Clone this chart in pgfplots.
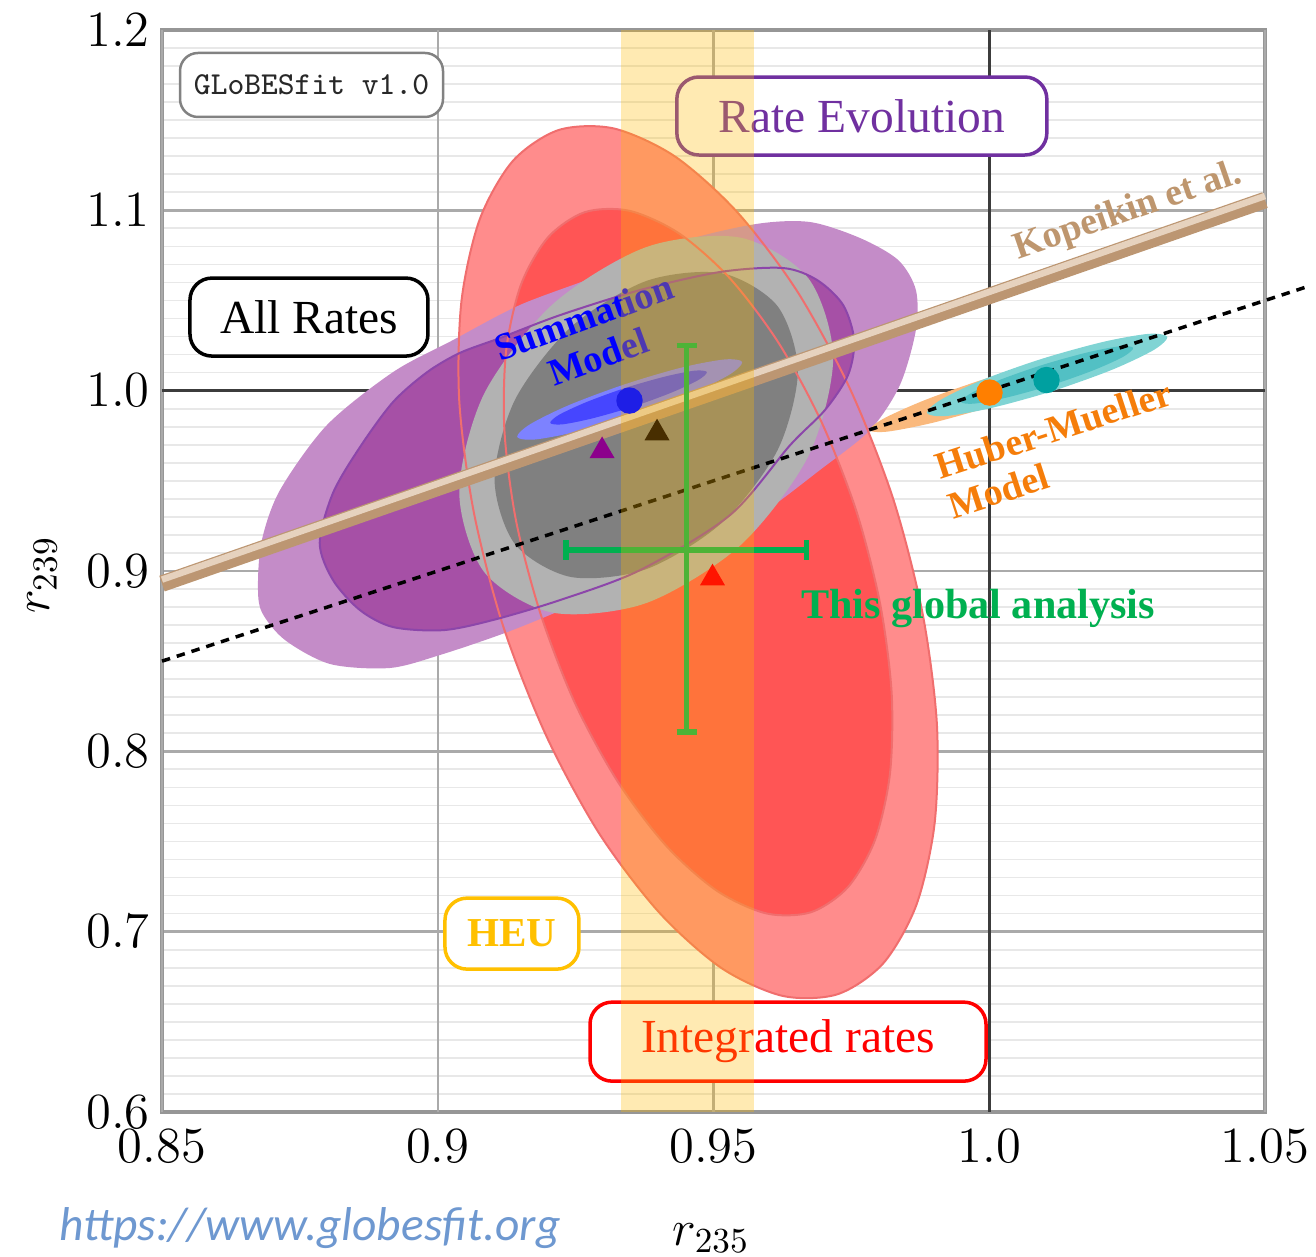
\documentclass[border=0pt]{standalone}
\usepackage{fontspec}
\setmainfont{Liberation Serif}
\newfontfamily\calibri{Carlito}
\usepackage{pgfplots}
\pgfplotsset{compat=1.18}

\definecolor{pur1}{RGB}{196,140,200}
\definecolor{pur2}{RGB}{166,80,166}
\definecolor{purl}{RGB}{140,70,170}
\definecolor{red1}{RGB}{255,140,140}
\definecolor{red2}{RGB}{255,85,85}
\definecolor{redl}{RGB}{240,110,110}
\definecolor{gray1}{RGB}{178,178,178}
\definecolor{gray2}{RGB}{128,128,128}
\definecolor{blu1}{RGB}{125,130,255}
\definecolor{blu2}{RGB}{70,70,255}
\definecolor{ora1}{RGB}{250,185,125}
\definecolor{tea1}{RGB}{128,212,212}
\definecolor{tea2}{RGB}{82,192,196}
\definecolor{heu}{RGB}{255,186,0}
\definecolor{tan1}{RGB}{188,150,114}
\definecolor{tan2}{RGB}{230,210,190}
\definecolor{gcol}{RGB}{0,176,80}
\definecolor{revo}{RGB}{112,48,160}
\definecolor{heub}{RGB}{255,192,0}
\definecolor{hmor}{RGB}{245,125,10}
\definecolor{kop}{RGB}{190,150,110}
\definecolor{urlc}{RGB}{110,152,208}
\definecolor{majg}{RGB}{170,170,170}
\definecolor{ming}{RGB}{232,232,232}
\definecolor{darkg}{RGB}{60,60,60}
\definecolor{frame}{RGB}{150,150,150}

\begin{document}
\begin{tikzpicture}
\begin{axis}[
  at={(0,0)}, anchor=south west,
  scale only axis, width=110.3mm, height=108.2mm,
  xmin=0.85, xmax=1.05, ymin=0.6, ymax=1.2,
  clip=false,
  xtick=\empty,
  extra x ticks={0.85,0.9,0.95,1.0,1.05},
  extra x tick labels={$0.85$,$0.9$,$0.95$,$1.0$,$1.05$},
  extra x tick style={major grid style={draw=majg, line width=0.7pt}},
  ytick={0.6,0.7,0.8,0.9,1.1,1.2}, yticklabels={$0.6$,$0.7$,$0.8$,$0.9$,$1.1$,$1.2$},
  extra y ticks={1.0}, extra y tick labels={$1.0$},
  extra y tick style={major grid style={draw=darkg, line width=0.9pt}},
  minor xtick={0.86,0.87,0.88,0.89,0.91,0.92,0.93,0.94,0.96,0.97,0.98,0.99,1.01,1.02,1.03,1.04},
  minor ytick={0.61,0.62,0.63,0.64,0.65,0.66,0.67,0.68,0.69,0.71,0.72,0.73,0.74,0.75,0.76,0.77,0.78,0.79,0.81,0.82,0.83,0.84,0.85,0.86,0.87,0.88,0.89,0.91,0.92,0.93,0.94,0.95,0.96,0.97,0.98,0.99,1.01,1.02,1.03,1.04,1.05,1.06,1.07,1.08,1.09,1.11,1.12,1.13,1.14,1.15,1.16,1.17,1.18,1.19},
  grid=both,
  major grid style={draw=majg, line width=0.7pt},
  minor grid style={draw=ming, line width=0.5pt},
  major tick length=0pt, minor tick length=0pt,
  axis line style={draw=frame, line width=1pt},
  tick label style={font=\fontsize{14}{16}\selectfont},
  xticklabel style={yshift=-0.5mm},
  xlabel={$r_{235}$}, ylabel={$r_{239}$},
  label style={font=\fontsize{14}{16}\selectfont},
  xlabel style={at={(axis description cs:0.4977,-0.1165)}, anchor=center},
  ylabel style={at={(axis description cs:-0.1088,0.4963)}, anchor=center},
]
% dark reference line r235 = 1
\addplot[draw=darkg, line width=0.9pt] coordinates {(1.0,0.6) (1.0,1.2)};
% ---- Integrated rates (red) ----
\addplot[draw=none, fill=red1, smooth cycle] coordinates {(0.9725,0.6653) (0.9808,0.6825) (0.9868,0.7149) (0.9901,0.7602) (0.9905,0.8154) (0.9879,0.8766) (0.9826,0.9398) (0.9748,1.0007) (0.9652,1.0550) (0.9543,1.0990) (0.9430,1.1299) (0.9319,1.1454) (0.9219,1.1445) (0.9136,1.1273) (0.9076,1.0949) (0.9043,1.0496) (0.9039,0.9944) (0.9065,0.9332) (0.9118,0.8700) (0.9196,0.8091) (0.9292,0.7548) (0.9401,0.7108) (0.9514,0.6799) (0.9625,0.6644)};
\addplot[draw=none, fill=red2, smooth cycle] coordinates {(0.9677,0.7108) (0.9744,0.7248) (0.9793,0.7510) (0.9820,0.7877) (0.9823,0.8324) (0.9802,0.8820) (0.9759,0.9332) (0.9696,0.9825) (0.9618,1.0265) (0.9530,1.0622) (0.9438,1.0871) (0.9348,1.0997) (0.9267,1.0990) (0.9200,1.0850) (0.9151,1.0588) (0.9124,1.0221) (0.9121,0.9774) (0.9142,0.9278) (0.9186,0.8766) (0.9248,0.8273) (0.9326,0.7834) (0.9414,0.7477) (0.9506,0.7227) (0.9596,0.7101)};
% ---- Rate evolution (purple) ----
\addplot[draw=none, fill=pur1, smooth cycle] coordinates {(0.8674,0.8922) (0.8681,0.9171) (0.8714,0.9449) (0.8799,0.9809) (0.8919,1.0103) (0.9028,1.0281) (0.9149,1.0475) (0.9294,1.0641) (0.9439,1.0824) (0.9577,1.0924) (0.9675,1.0935) (0.9766,1.0846) (0.9835,1.0724) (0.9867,1.0558) (0.9867,1.0336) (0.9838,1.0031) (0.9784,0.9782) (0.9693,0.9560) (0.9584,0.9310) (0.9476,0.9127) (0.9367,0.8988) (0.9245,0.8811) (0.9126,0.8661) (0.9004,0.8534) (0.8913,0.8462) (0.8805,0.8484) (0.8723,0.8617) (0.8681,0.8772)};
\addplot[draw=none, fill=pur2, smooth cycle] coordinates {(0.8786,0.9155) (0.8810,0.9432) (0.8859,0.9687) (0.8919,0.9937) (0.8981,1.0103) (0.9040,1.0209) (0.9113,1.0292) (0.9222,1.0419) (0.9367,1.0558) (0.9512,1.0658) (0.9626,1.0680) (0.9688,1.0613) (0.9735,1.0475) (0.9755,1.0281) (0.9744,1.0087) (0.9702,0.9892) (0.9639,0.9698) (0.9530,0.9310) (0.9367,0.9005) (0.9222,0.8839) (0.9100,0.8728) (0.9010,0.8672) (0.8919,0.8689) (0.8859,0.8783) (0.8810,0.8950)};
% ---- All rates (gray) ----
\addplot[draw=none, fill=gray1, smooth cycle] coordinates {(0.9717,1.0180) (0.9672,0.9637) (0.9548,0.9140) (0.9378,0.8822) (0.9208,0.8769) (0.9084,0.8995) (0.9039,0.9439) (0.9084,0.9982) (0.9208,1.0478) (0.9378,1.0796) (0.9548,1.0849) (0.9672,1.0623)};
\addplot[draw=none, fill=gray2, smooth cycle] coordinates {(0.9653,1.0109) (0.9616,0.9669) (0.9515,0.9267) (0.9378,0.9010) (0.9241,0.8967) (0.9140,0.9149) (0.9103,0.9509) (0.9140,0.9949) (0.9241,1.0351) (0.9378,1.0608) (0.9515,1.0651) (0.9616,1.0469)};
% ---- contour outlines on top ----
\addplot[draw=redl, line width=0.2mm, smooth cycle] coordinates {(0.9725,0.6653) (0.9808,0.6825) (0.9868,0.7149) (0.9901,0.7602) (0.9905,0.8154) (0.9879,0.8766) (0.9826,0.9398) (0.9748,1.0007) (0.9652,1.0550) (0.9543,1.0990) (0.9430,1.1299) (0.9319,1.1454) (0.9219,1.1445) (0.9136,1.1273) (0.9076,1.0949) (0.9043,1.0496) (0.9039,0.9944) (0.9065,0.9332) (0.9118,0.8700) (0.9196,0.8091) (0.9292,0.7548) (0.9401,0.7108) (0.9514,0.6799) (0.9625,0.6644)};
\addplot[draw=redl, line width=0.2mm, smooth cycle] coordinates {(0.9677,0.7108) (0.9744,0.7248) (0.9793,0.7510) (0.9820,0.7877) (0.9823,0.8324) (0.9802,0.8820) (0.9759,0.9332) (0.9696,0.9825) (0.9618,1.0265) (0.9530,1.0622) (0.9438,1.0871) (0.9348,1.0997) (0.9267,1.0990) (0.9200,1.0850) (0.9151,1.0588) (0.9124,1.0221) (0.9121,0.9774) (0.9142,0.9278) (0.9186,0.8766) (0.9248,0.8273) (0.9326,0.7834) (0.9414,0.7477) (0.9506,0.7227) (0.9596,0.7101)};
\addplot[draw=purl, line width=0.2mm, smooth cycle] coordinates {(0.8786,0.9155) (0.8810,0.9432) (0.8859,0.9687) (0.8919,0.9937) (0.8981,1.0103) (0.9040,1.0209) (0.9113,1.0292) (0.9222,1.0419) (0.9367,1.0558) (0.9512,1.0658) (0.9626,1.0680) (0.9688,1.0613) (0.9735,1.0475) (0.9755,1.0281) (0.9744,1.0087) (0.9702,0.9892) (0.9639,0.9698) (0.9530,0.9310) (0.9367,0.9005) (0.9222,0.8839) (0.9100,0.8728) (0.9010,0.8672) (0.8919,0.8689) (0.8859,0.8783) (0.8810,0.8950)};
% ---- Summation model (blue) ----
\addplot[draw=none, fill=blu1, smooth cycle] coordinates {(0.9552,1.0159) (0.9529,1.0089) (0.9458,0.9982) (0.9357,0.9867) (0.9254,0.9774) (0.9176,0.9729) (0.9144,0.9743) (0.9167,0.9813) (0.9238,0.9920) (0.9339,1.0035) (0.9442,1.0128) (0.9520,1.0173)};
\addplot[draw=none, fill=blu2, smooth cycle] coordinates {(0.9488,1.0103) (0.9472,1.0058) (0.9422,0.9987) (0.9352,0.9909) (0.9280,0.9846) (0.9226,0.9813) (0.9204,0.9821) (0.9220,0.9866) (0.9270,0.9937) (0.9340,1.0015) (0.9412,1.0078) (0.9466,1.0111)};
% ---- Huber-Mueller ----
\addplot[draw=none, fill=ora1, smooth cycle] coordinates {(1.0219,1.0203) (1.0193,1.0138) (1.0116,1.0033) (1.0009,0.9918) (0.9899,0.9823) (0.9816,0.9773) (0.9783,0.9781) (0.9809,0.9846) (0.9886,0.9951) (0.9993,1.0066) (1.0103,1.0161) (1.0186,1.0212)};
\addplot[draw=none, fill=tea1, smooth cycle] coordinates {(1.0323,1.0298) (1.0298,1.0225) (1.0222,1.0115) (1.0114,0.9997) (1.0004,0.9904) (0.9921,0.9859) (0.9887,0.9876) (0.9912,0.9949) (0.9988,1.0060) (1.0096,1.0177) (1.0206,1.0270) (1.0289,1.0315)};
\addplot[draw=none, fill=tea2, smooth cycle] coordinates {(1.0261,1.0237) (1.0243,1.0188) (1.0188,1.0112) (1.0111,1.0029) (1.0032,0.9962) (0.9973,0.9928) (0.9949,0.9937) (0.9967,0.9986) (1.0022,1.0063) (1.0099,1.0145) (1.0178,1.0212) (1.0237,1.0246)};
% ---- Kopeikin et al. line ----
\addplot[draw=tan1, line width=1.65mm, line cap=butt] coordinates {(0.85,0.893) (1.05,1.1057)};
\addplot[draw=tan2, line width=0.65mm, line cap=butt, yshift=0.4mm] coordinates {(0.85,0.893) (1.05,1.1057)};
% ---- r239 = r235 ----
\addplot[draw=black, line width=0.35mm, dash pattern=on 0.85mm off 0.7mm] coordinates {(0.85,0.85) (1.058,1.058)};
% ---- This global analysis ----
\addplot[draw=gcol, line width=0.55mm] coordinates {(0.92326,0.91159) (0.96687,0.91159)};
\addplot[draw=gcol, line width=0.55mm] coordinates {(0.92326,0.9061) (0.92326,0.9171)};
\addplot[draw=gcol, line width=0.55mm] coordinates {(0.96687,0.9061) (0.96687,0.9171)};
\addplot[draw=gcol, line width=0.55mm] coordinates {(0.94514,0.81065) (0.94514,1.02490)};
\addplot[draw=gcol, line width=0.55mm] coordinates {(0.94332,1.02490) (0.94696,1.02490)};
\addplot[draw=gcol, line width=0.55mm] coordinates {(0.94332,0.81065) (0.94696,0.81065)};
% ---- best-fit markers ----
\addplot[only marks, mark=triangle*, mark size=1.3mm, color={rgb,255:red,140;green,0;blue,140}] coordinates {(0.9298,0.9666)};
\addplot[only marks, mark=triangle*, mark size=1.3mm, color={rgb,255:red,72;green,46;blue,0}] coordinates {(0.93976,0.97648)};
\addplot[only marks, mark=triangle*, mark size=1.3mm, color={rgb,255:red,255;green,20;blue,0}] coordinates {(0.94982,0.89606)};
\addplot[only marks, mark=*, mark size=1.25mm, color={rgb,255:red,30;green,30;blue,230}] coordinates {(0.93477,0.99451)};
\addplot[only marks, mark=*, mark size=1.25mm, color={rgb,255:red,255;green,127;blue,0}] coordinates {(1.00005,0.99894)};
\addplot[only marks, mark=*, mark size=1.25mm, color={rgb,255:red,0;green,160;blue,160}] coordinates {(1.01038,1.00588)};
% ---- labels ----
\node[font=\fontsize{9.1}{11}\selectfont\ttfamily, text={rgb,255:red,40;green,40;blue,40}, draw={rgb,255:red,130;green,130;blue,130}, line width=0.25mm, rounded corners=1.8mm, fill=white, minimum width=26.3mm, minimum height=6.4mm, inner sep=0pt] at (axis cs:0.87711,1.1695) {GLoBESfit v1.0};
\node[font=\fontsize{13.5}{15}\selectfont, text=revo, draw=revo, line width=0.35mm, rounded corners=2.2mm, fill=white, minimum width=37mm, minimum height=7.8mm, inner sep=0pt] at (axis cs:0.9769,1.1523) {Rate Evolution};
\node[font=\fontsize{13.5}{15}\selectfont, text=black, draw=black, line width=0.35mm, rounded corners=2.2mm, fill=white, minimum width=23.8mm, minimum height=7.8mm, inner sep=0pt] at (axis cs:0.87665,1.0408) {All Rates};
\node[font=\fontsize{13.5}{15}\selectfont, text=red, draw=red, line width=0.35mm, rounded corners=2.2mm, fill=white, minimum width=39.6mm, minimum height=7.9mm, inner sep=0pt] at (axis cs:0.96351,0.6390) {Integrated rates};
\node[font=\bfseries\fontsize{11.7}{13}\selectfont, text=heub, draw=heub, line width=0.35mm, rounded corners=2.2mm, fill=white, minimum width=13.4mm, minimum height=7.1mm, inner sep=0pt] at (axis cs:0.91346,0.6989) {HEU};
\node[rotate=20, align=center, font=\bfseries\fontsize{10.8}{11.8}\selectfont, text=blue] at (axis cs:0.92779,1.0297) {Summation\\Model};
\node[rotate=19, font=\bfseries\fontsize{10.8}{12}\selectfont, text=kop] at (axis cs:1.02516,1.0991) {Kopeikin et al.};
\node[rotate=18, align=left, font=\bfseries\fontsize{10.8}{11.8}\selectfont, text=hmor] at (axis cs:1.0128,0.9676) {Huber-Mueller\\Model};
\node[font=\bfseries\fontsize{12}{14}\selectfont, text=gcol] at (axis cs:0.99796,0.8794) {This global analysis};
% ---- HEU band (on top) ----
\addplot[draw=none, fill=heu, fill opacity=0.3] coordinates {(0.9332,0.6) (0.9573,0.6) (0.9573,1.2) (0.9332,1.2)} -- cycle;
\end{axis}
\node[font=\calibri\itshape\fontsize{13.5}{15}\selectfont, text=urlc] at (14.8mm,-11.6mm) {https://www.globesfit.org};
\pgfresetboundingbox
\path[use as bounding box] (-16.2mm,-14.5mm) rectangle (115.4mm,111.2mm);
\end{tikzpicture}
\end{document}
